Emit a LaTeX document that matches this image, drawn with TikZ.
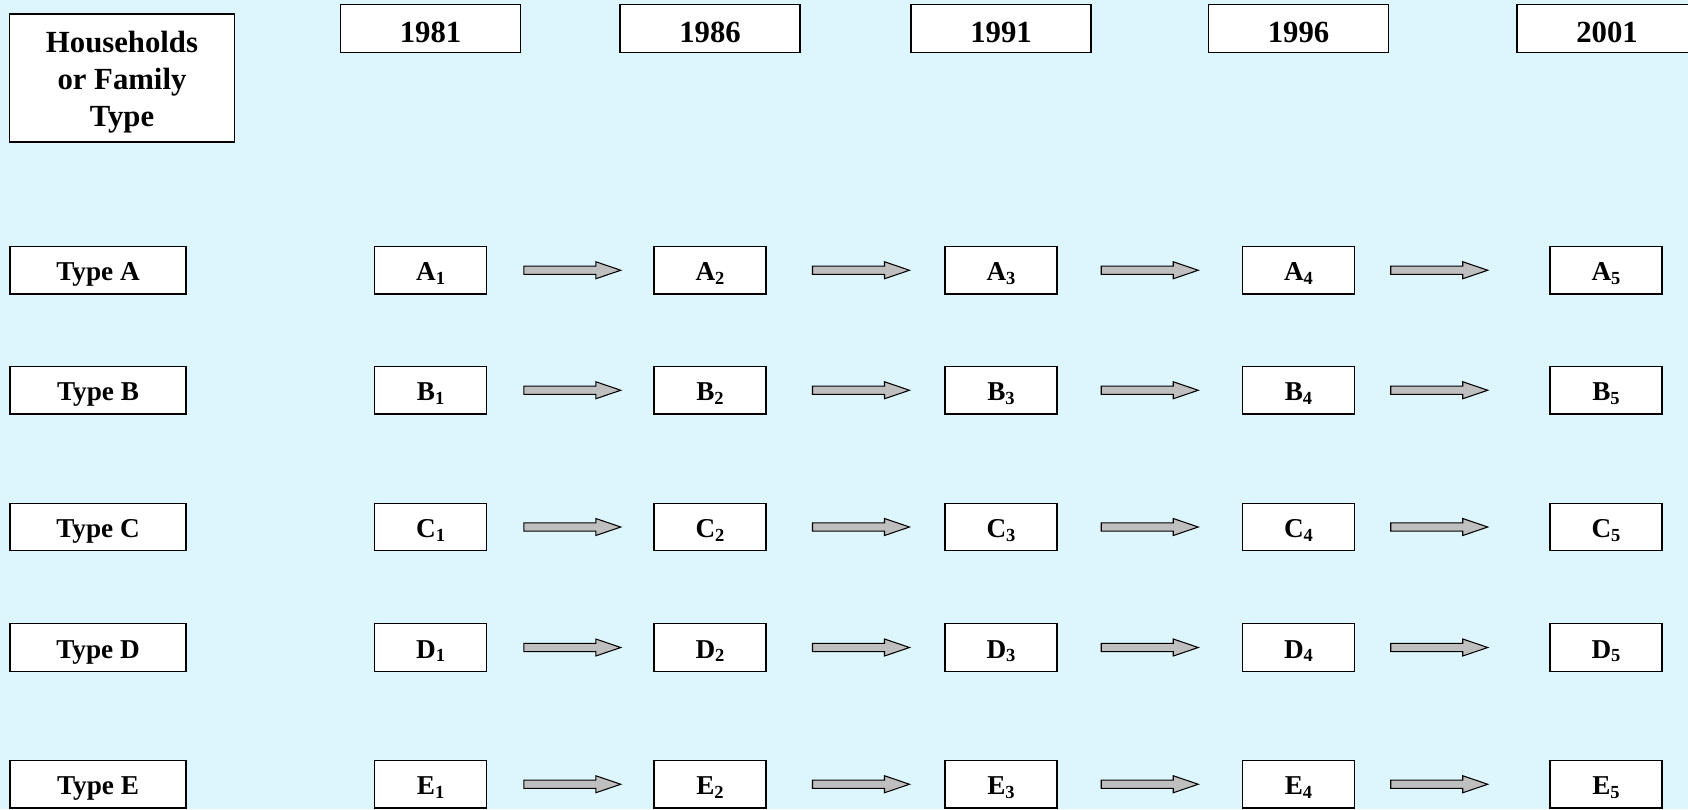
\documentclass[tikz,border=0pt]{standalone}
\usepackage{fontspec}
\setmainfont{Liberation Serif}
\usetikzlibrary{calc}
\definecolor{bgblue}{RGB}{221,245,252}
\newcommand{\sbs}[1]{\raisebox{-2pt}{\fontsize{10.5}{10.5}\selectfont #1}}

\begin{document}
\begin{tikzpicture}[
    x=0.02cm, y=-0.02cm,
    box/.style={
        draw,
        line width=0.8pt,
        fill=white,
        inner sep=0pt,
        text depth=0pt,
        font=\fontsize{15.5}{20}\selectfont\bfseries
    },
    bigbox/.style={box, font=\fontsize{17.5}{21}\selectfont\bfseries},
    yearbox/.style={bigbox, minimum width=3.6cm, minimum height=0.97cm, text height=15.4pt},
    typebox/.style={box, minimum width=3.52cm, minimum height=0.95cm, text height=12pt},
    cell/.style={box, minimum width=2.24cm, minimum height=0.95cm, text height=12pt},
    flow/.style={draw, line width=0.6pt, fill=gray!50}
]

% Background
\fill[bgblue] (0,0) rectangle (1688,809);
\useasboundingbox (0,0) rectangle (1688,809);

% Header
\node[bigbox, align=center, text height=55pt, text depth=0pt,
      minimum width=4.5cm, minimum height=2.56cm] (head) at (122,78) {Households\\or Family\\Type};

% Years
\foreach \yr/\cx [count=\i] in {1981/430.6, 1986/710, 1991/1001, 1996/1298.5, 2001/1607}
    \node[yearbox] (year\i) at (\cx,28.5) {\yr};

% Rows
\foreach \row/\cy in {A/270.25, B/390.25, C/527, D/647.5, E/784.25}{
    \node[typebox] (type\row) at (98,\cy) {Type \row};
    \foreach \cx [count=\col] in {430.6, 710, 1001, 1298.5, 1606}
        \node[cell] (\row\col) at (\cx,\cy) {\row\sbs{\col}};
    % Arrows
    \foreach \col/\off [evaluate=\col as \nx using int(\col+1)] in {1/2, 2/5.5, 3/0, 4/-13}
        \path[flow] let \p1=($(\row\col.east)!0.5!(\row\nx.west)+(\off,0)$) in
            (\x1-0.97cm,\y1+0.084cm) -- (\x1+0.47cm,\y1+0.084cm) -- (\x1+0.47cm,\y1+0.17cm)
            -- (\x1+0.97cm,\y1) -- (\x1+0.47cm,\y1-0.17cm) -- (\x1+0.47cm,\y1-0.084cm)
            -- (\x1-0.97cm,\y1-0.084cm) -- cycle;
}

\end{tikzpicture}
\end{document}
